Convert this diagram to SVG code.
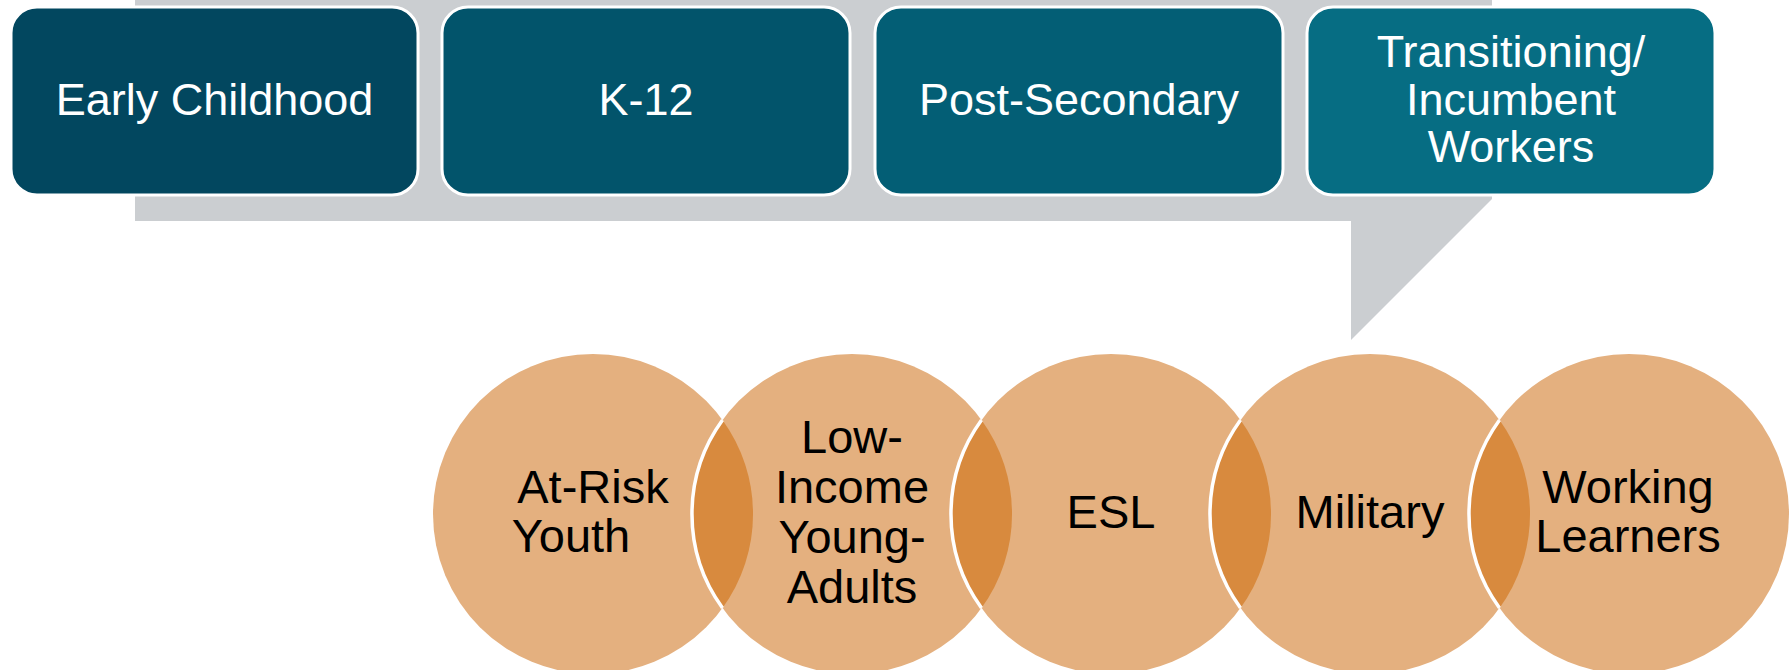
<svg xmlns="http://www.w3.org/2000/svg" width="1789" height="670" viewBox="0 0 1789 670">
<style>
.box{stroke:#ffffff;stroke-width:3}
.lbl{font-family:"Liberation Sans",Arial,sans-serif;font-size:45px;fill:#ffffff;text-anchor:middle}
.circ{fill:#E4B07F}
.lens{fill:#D88A3E}
.edge{fill:none;stroke:#ffffff;stroke-width:3.5}
.ct{font-family:"Liberation Sans",Arial,sans-serif;font-size:47px;fill:#000000;text-anchor:middle}
</style>
<rect width="1789" height="670" fill="#ffffff"/>
<g id="callout">
<polygon points="135,0 1492,0 1492,199 1351,340 1351,221 135,221" fill="#CBCED1"/>
</g>
<g id="node-early-childhood">
<rect class="box" x="11" y="7" width="407" height="188" rx="26" fill="#02475F"/>
<text class="lbl" x="214.5" y="115">Early Childhood</text>
</g>
<g id="node-k12">
<rect class="box" x="442" y="7" width="408" height="188" rx="26" fill="#02546B"/>
<text class="lbl" x="646" y="115">K-12</text>
</g>
<g id="node-post-secondary">
<rect class="box" x="875" y="7" width="408" height="188" rx="26" fill="#035E75"/>
<text class="lbl" x="1079" y="115">Post-Secondary</text>
</g>
<g id="node-transitioning">
<rect class="box" x="1307" y="7" width="408" height="188" rx="26" fill="#066D83"/>
<text class="lbl" x="1511" y="67">Transitioning/</text>
<text class="lbl" x="1511" y="115">Incumbent</text>
<text class="lbl" x="1511" y="162">Workers</text>
</g>
<g id="circles">
<circle class="circ" cx="593" cy="514" r="160"/>
<circle class="circ" cx="852" cy="514" r="160"/>
<circle class="circ" cx="1111" cy="514" r="160"/>
<circle class="circ" cx="1370" cy="514" r="160"/>
<circle class="circ" cx="1629" cy="514" r="160"/>
</g>
<g id="overlaps">
<path class="lens" d="M722.5 420 A160 160 0 0 1 722.5 608 A160 160 0 0 1 722.5 420 Z"/>
<path class="lens" d="M981.5 420 A160 160 0 0 1 981.5 608 A160 160 0 0 1 981.5 420 Z"/>
<path class="lens" d="M1240.5 420 A160 160 0 0 1 1240.5 608 A160 160 0 0 1 1240.5 420 Z"/>
<path class="lens" d="M1499.5 420 A160 160 0 0 1 1499.5 608 A160 160 0 0 1 1499.5 420 Z"/>
<path class="edge" d="M722.5 608 A160 160 0 0 1 722.5 420"/>
<path class="edge" d="M981.5 608 A160 160 0 0 1 981.5 420"/>
<path class="edge" d="M1240.5 608 A160 160 0 0 1 1240.5 420"/>
<path class="edge" d="M1499.5 608 A160 160 0 0 1 1499.5 420"/>
</g>
<g id="node-at-risk-youth">
<text class="ct" x="593" y="503">At-Risk</text>
<text class="ct" x="571" y="552">Youth</text>
</g>
<g id="node-low-income">
<text class="ct" x="852" y="453">Low-</text>
<text class="ct" x="852" y="503">Income</text>
<text class="ct" x="852" y="553">Young-</text>
<text class="ct" x="852" y="603">Adults</text>
</g>
<g id="node-esl">
<text class="ct" x="1111" y="528">ESL</text>
</g>
<g id="node-military">
<text class="ct" x="1370" y="528">Military</text>
</g>
<g id="node-working-learners">
<text class="ct" x="1628" y="503">Working</text>
<text class="ct" x="1628" y="552">Learners</text>
</g>
</svg>
